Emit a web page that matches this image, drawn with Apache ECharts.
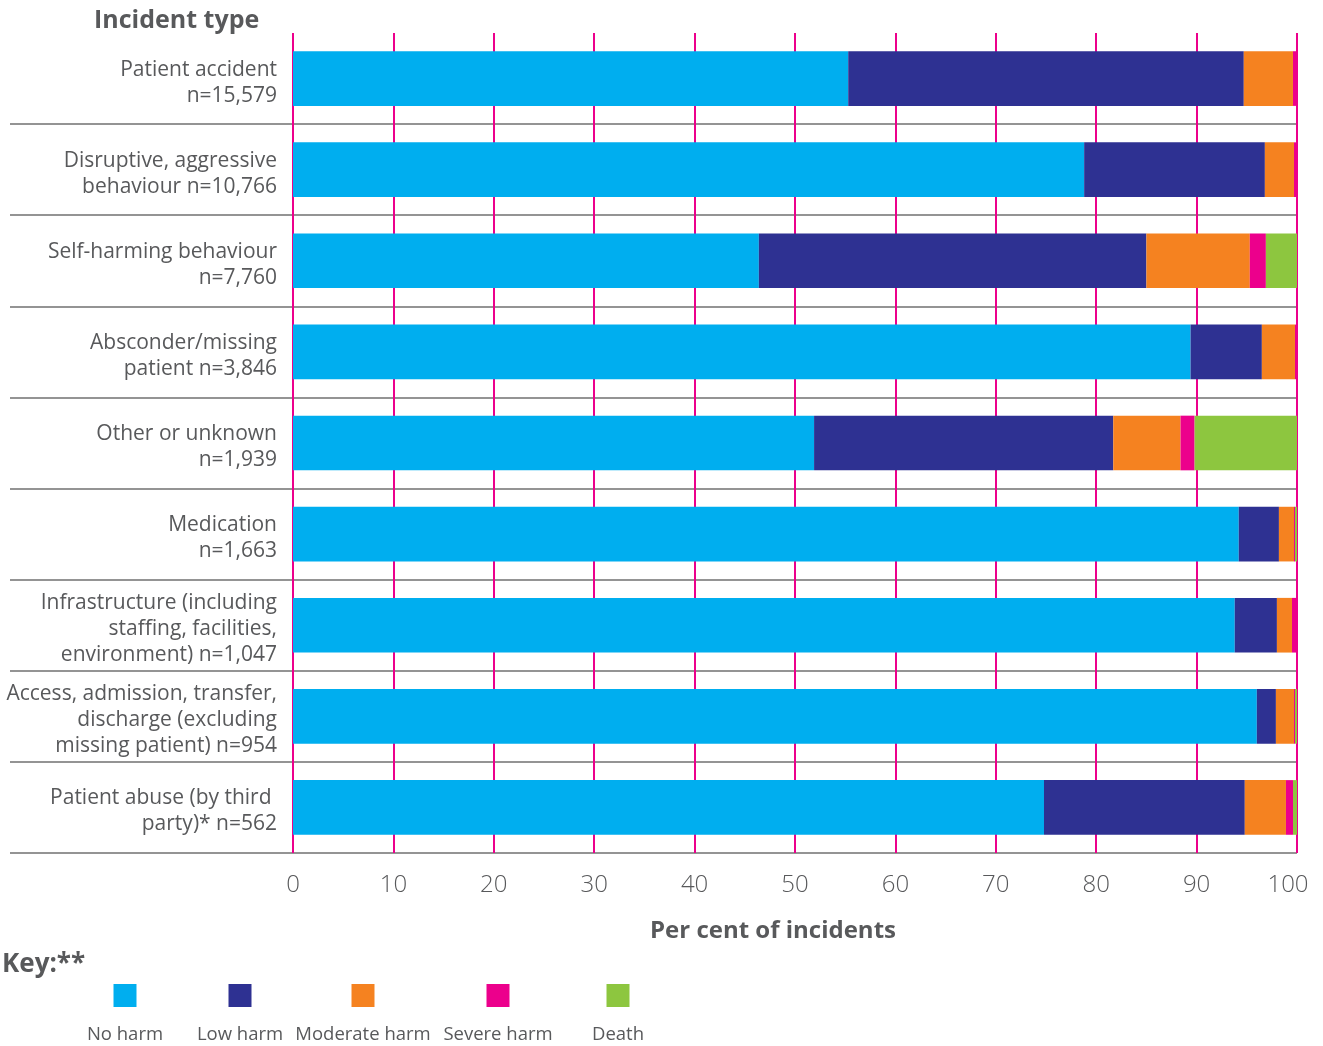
<!DOCTYPE html>
<html>
<head>
<meta charset="utf-8">
<script src="https://cdn.jsdelivr.net/npm/echarts@6/dist/echarts.min.js"></script>
<style>html,body{margin:0;padding:0;background:#fff}#c{width:1323px;height:1046px}</style>
</head>
<body>
<div id="c"></div>
<script>
const categories = [
  "Patient accident\nn=15,579",
  "Disruptive, aggressive\nbehaviour n=10,766",
  "Self-harming behaviour\nn=7,760",
  "Absconder/missing\npatient n=3,846",
  "Other or unknown\nn=1,939",
  "Medication\nn=1,663",
  "Infrastructure (including\nstaffing, facilities,\nenvironment) n=1,047",
  "Access, admission, transfer,\ndischarge (excluding\nmissing patient) n=954",
  "Patient abuse (by third \nparty)* n=562"
];
const noHarm       = [55.3, 78.8, 46.4, 89.4, 51.9, 94.2, 93.8, 96.0, 74.8];
const lowHarm      = [39.4, 18.0, 38.6,  7.1, 29.8,  4.0,  4.2,  1.9, 20.0];
const moderateHarm = [ 4.9,  2.9, 10.3,  3.3,  6.7,  1.5,  1.5,  1.8,  4.1];
const severeHarm   = [ 0.4,  0.3,  1.6,  0.2,  1.4,  0.1,  0.5,  0.1,  0.7];
const death        = [ 0.0,  0.0,  3.1,  0.0, 10.2,  0.2,  0.0,  0.2,  0.4];
const seriesNames = ["No harm", "Low harm", "Moderate harm", "Severe harm", "Death"];
const xTicks = [0, 10, 20, 30, 40, 50, 60, 70, 80, 90, 100];

const colors = ["#00aeef", "#2e3192", "#f58220", "#ec008c", "#8dc63f"];
const FONT = "Open Sans";
const TXT = "#58595b";
const allData = [noHarm, lowHarm, moderateHarm, severeHarm, death];

const chart = echarts.init(document.getElementById('c'));
const legendCenters = [125, 240, 363, 498, 618];

const option = {
  animation: false,
  textStyle: { fontFamily: FONT },
  grid: [
    { left: 293, right: 26, top: 33, bottom: 193 },
    { left: 10, right: 26, top: 33, bottom: 193 }
  ],
  xAxis: [
    {
      type: 'value', gridIndex: 0, min: 0, max: 100, interval: 10,
      axisLine: { show: false }, axisTick: { show: false },
      splitLine: { show: true, lineStyle: { color: '#ec008c', width: 2 } },
      axisLabel: { color: TXT, fontSize: 24, margin: 20, fontFamily: FONT, fontWeight: 300,
        formatter: v => !xTicks.includes(v) ? '' : (v === 100 ? '{e|' + v + '}' : String(v)),
        rich: { e: { color: TXT, fontSize: 24, fontFamily: FONT, fontWeight: 300, padding: [0, 18, 0, 0] } } },
      name: 'Per cent of incidents', nameLocation: 'middle', nameGap: 66,
      nameTextStyle: { color: TXT, fontSize: 24, fontWeight: 'bold', fontFamily: FONT, padding: [0, 44, 0, 0] }
    },
    {
      type: 'value', gridIndex: 1, min: 0, max: 100, show: false
    }
  ],
  yAxis: [
    {
      type: 'category', gridIndex: 0, data: categories, inverse: true,
      axisLine: { show: false }, axisTick: { show: false }, splitLine: { show: false },
      axisLabel: { color: TXT, fontSize: 21, lineHeight: 26, margin: 16, align: 'right', fontFamily: FONT,
        formatter: v => '{s| }\n' + v.split('\n').map(l => '{t|' + l + '}').join('\n'),
        rich: {
          s: { fontSize: 1, lineHeight: 8 },
          t: { color: TXT, fontSize: 21, lineHeight: 26, fontFamily: FONT, align: 'right' }
        } }
    },
    {
      type: 'category', gridIndex: 1, data: categories, inverse: true,
      axisLine: { show: false }, axisTick: { show: false }, axisLabel: { show: false },
      splitLine: { show: true, interval: (idx) => idx !== 0, lineStyle: { color: '#707070', width: 1.5 } }
    }
  ],
  legend: seriesNames.map((n, i) => ({
    data: [n], left: legendCenters[i] - 11.5, top: 984, padding: 0,
    itemWidth: 23, itemHeight: 23, icon: 'rect', itemGap: 0,
    formatter: () => '', textStyle: { fontSize: 1 }
  })),
  graphic: [
    { type: 'text', left: 94, top: 8, style: { text: 'Incident type', fill: TXT, font: 'bold 25px "' + FONT + '"' } },
    { type: 'text', left: 2, top: 952, style: { text: 'Key:**', fill: TXT, font: 'bold 26px "' + FONT + '"' } }
  ].concat(seriesNames.map((n, i) => ({
    type: 'text', x: legendCenters[i], y: 1035,
    style: { text: n, fill: TXT, font: '18.5px "' + FONT + '"', textAlign: 'center', textVerticalAlign: 'middle' }
  }))),
  series: seriesNames.map((n, i) => ({
    name: n, type: 'bar', stack: 'total', xAxisIndex: 0, yAxisIndex: 0,
    barWidth: '60%', data: allData[i],
    itemStyle: { color: colors[i] }, emphasis: { disabled: true }
  }))
};
chart.setOption(option);
</script>
</body>
</html>
